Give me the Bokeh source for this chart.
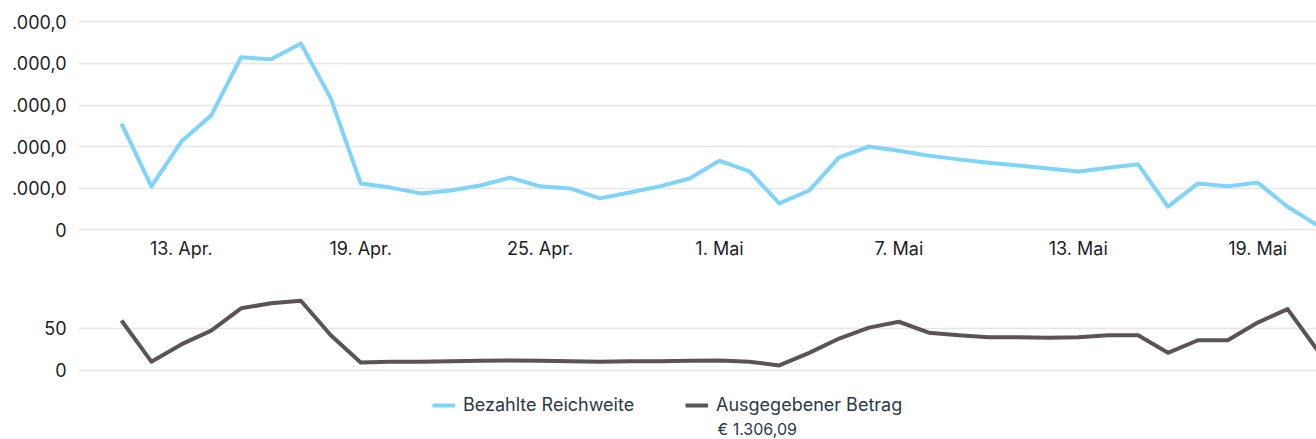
from bokeh.plotting import figure
from bokeh.layouts import column
from bokeh.models import FixedTicker, Legend, LegendItem, Range1d
from bokeh.core.properties import value
from bokeh.embed import file_html
from bokeh.resources import INLINE

# ---- data ----
dates = ["11.04.", "12.04.", "13.04.", "14.04.", "15.04.", "16.04.", "17.04.", "18.04.",
         "19.04.", "20.04.", "21.04.", "22.04.", "23.04.", "24.04.", "25.04.", "26.04.",
         "27.04.", "28.04.", "29.04.", "30.04.", "01.05.", "02.05.", "03.05.", "04.05.",
         "05.05.", "06.05.", "07.05.", "08.05.", "09.05.", "10.05.", "11.05.", "12.05.",
         "13.05.", "14.05.", "15.05.", "16.05.", "17.05.", "18.05.", "19.05.", "20.05.",
         "21.05."]
reichweite = [2550, 1040, 2120, 2750, 4150, 4100, 4480, 3160, 1110, 1010, 870, 940,
              1060, 1250, 1040, 990, 750, 890, 1040, 1230, 1660, 1400, 630, 940,
              1740, 2000, 1900, 1780, 1690, 1610, 1540, 1470, 1400, 1490, 1570, 550,
              1110, 1040, 1130, 550, 100]
betrag = [59.5, 10.5, 31, 47.5, 74, 80, 83, 42, 9.5, 10.5, 10.5, 11,
          11.5, 12, 11.5, 11, 10.5, 11, 11, 11.5, 12, 10.5, 6, 21,
          38, 51, 58, 45, 42, 39.5, 39.5, 39, 39.5, 42, 42, 21,
          36, 36, 57, 73, 24]
tick_idx = [2, 8, 14, 20, 26, 32, 38]
tick_labels = ["13. Apr.", "19. Apr.", "25. Apr.", "1. Mai", "7. Mai", "13. Mai", "19. Mai"]
y1_ticks = [0, 1000, 2000, 3000, 4000, 5000]
y1_labels = ["0", ".000,0", ".000,0", ".000,0", ".000,0", ".000,0"]
y2_ticks = [0, 50, 100]
series_names = ["Bezahlte Reichweite", "Ausgegebener Betrag"]
total_label = "€ 1.306,09"

# ---- style ----
FONT = "Inter"
BLUE = "#80d3fa"
DARK = "#5b5355"
GRID = "#e6e6e8"
TXT = "#1d1d1f"
LEG_TXT = "#2b3945"
W = 1316
LEFT = 78
FW = W - LEFT
x = list(range(len(dates)))
x_rng = Range1d(-1.438, 39.967)


def style(p):
    p.outline_line_color = None
    p.background_fill_color = "white"
    p.border_fill_color = "white"
    p.xgrid.grid_line_color = None
    p.ygrid.grid_line_color = GRID
    p.ygrid.grid_line_width = 1.5
    for ax in p.axis:
        ax.axis_line_color = None
        ax.major_tick_line_color = None
        ax.minor_tick_line_color = None
        ax.major_tick_out = 0
        ax.major_tick_in = 0
        ax.major_label_text_font = FONT
        ax.major_label_text_font_size = "18px"
        ax.major_label_text_color = TXT


# top panel
p1 = figure(frame_width=FW, frame_height=222, x_range=x_rng, y_range=Range1d(-72, 5277),
            output_backend="svg", toolbar_location=None,
            min_border_left=LEFT, min_border_right=0, min_border_top=10, min_border_bottom=40)
p1.line(x, reichweite, line_color=BLUE, line_width=4, line_join="round")
style(p1)
p1.xaxis.ticker = FixedTicker(ticks=tick_idx)
p1.xaxis.major_label_overrides = {t: l for t, l in zip(tick_idx, tick_labels)}
p1.xaxis.major_label_standoff = 5
p1.yaxis.ticker = FixedTicker(ticks=y1_ticks)
p1.yaxis.major_label_overrides = {t: l for t, l in zip(y1_ticks, y1_labels)}
p1.yaxis.major_label_standoff = 12

# bottom panel
p2 = figure(frame_width=FW, frame_height=83, x_range=x_rng, y_range=Range1d(-3.6, 95.2),
            output_backend="svg", toolbar_location=None, x_axis_location=None,
            min_border_left=LEFT, min_border_right=0, min_border_top=18, min_border_bottom=12)
p2.line(x, betrag, line_color=DARK, line_width=4, line_join="round")
style(p2)
p2.yaxis.ticker = FixedTicker(ticks=y2_ticks)
p2.yaxis.major_label_standoff = 12

# legend panel (frame aligned with the plots above; data units = page pixels)
H3 = 54
p3 = figure(frame_width=FW, frame_height=H3, x_range=Range1d(LEFT, W), y_range=Range1d(0, H3),
            output_backend="svg", toolbar_location=None,
            x_axis_location=None, y_axis_location=None,
            min_border_left=LEFT, min_border_right=0, min_border_top=0, min_border_bottom=0)
p3.outline_line_color = None
p3.grid.visible = False
p3.extra_y_ranges = {"hidden": Range1d(-1e9, -1e9 + 1)}
r_blue = p3.line(x, reichweite, line_color=BLUE, line_width=4, y_range_name="hidden")
r_dark = p3.line(x, betrag, line_color=DARK, line_width=4, y_range_name="hidden")
for r, name, loc in [(r_blue, series_names[0], (432 - LEFT, 24)),
                     (r_dark, series_names[1], (685 - LEFT, 24))]:
    lg = Legend(items=[LegendItem(label=name, renderers=[r])], location=loc,
                padding=0, margin=0, border_line_color=None, background_fill_alpha=0,
                glyph_width=23, glyph_height=20, label_height=20, label_standoff=8,
                label_text_font=FONT, label_text_font_size="18px", label_text_color=LEG_TXT)
    p3.add_layout(lg)
p3.text(x=[717], y=[11], text=[total_label], text_baseline="middle", text_align="left",
        text_font=value(FONT), text_font_size="16px", text_color=LEG_TXT)

layout = column(p1, p2, p3, spacing=0)
open("out.html", "w").write(file_html(layout, INLINE))
